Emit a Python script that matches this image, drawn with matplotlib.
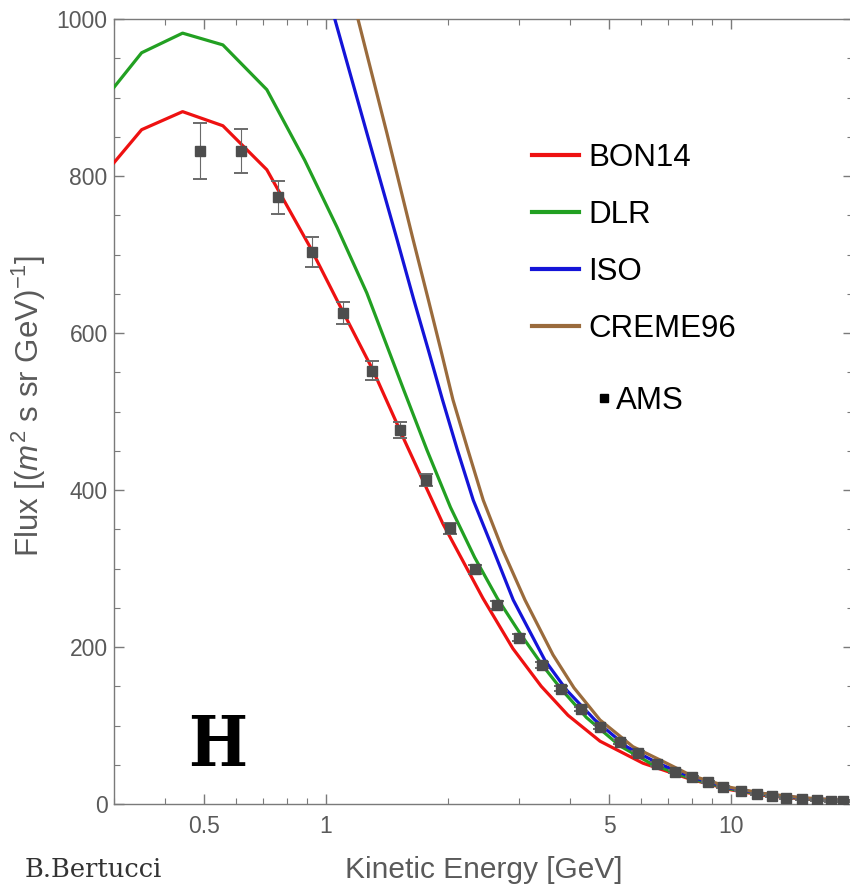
import matplotlib
matplotlib.use("Agg")
import matplotlib.pyplot as plt
from matplotlib.ticker import FixedLocator, NullFormatter, FixedFormatter
from matplotlib.lines import Line2D

# ===== 1) Datos =====
bon14_E = [0.30, 0.351, 0.443, 0.557, 0.715, 0.913, 1.065, 1.306, 1.567, 1.945, 2.442,
           2.895, 3.40, 3.96, 4.75, 6.06, 8.0, 10.0, 12.0, 15.0, 20.0]
bon14_F = [817, 859, 882, 864, 808, 710, 642, 553, 462, 357, 262,
           198, 150, 113, 80, 52, 31, 18, 11, 6.5, 3.3]

dlr_E = [0.30, 0.351, 0.443, 0.557, 0.715, 0.887, 1.065, 1.262, 1.558, 1.776, 2.03,
         2.33, 2.65, 3.0, 3.41, 3.80, 4.40, 5.32, 6.42, 8.0, 10.0, 12.0, 15.0, 20.0]
dlr_F = [913, 957, 982, 967, 910, 820, 735, 651, 527, 451, 378,
         314, 262, 219, 178, 147, 110, 74, 50, 32, 19, 12, 7, 3.5]

iso_E = [1.052, 1.262, 1.497, 1.649, 1.791, 1.940, 2.112, 2.311, 2.589, 2.900, 3.473,
         3.929, 4.615, 5.527, 6.6, 8.0, 10.0, 12.0, 15.0, 20.0]
iso_F = [1000, 855, 720, 642, 578, 515, 451, 387, 324, 260, 183,
         145, 107, 73, 52, 34, 20, 13, 7.5, 3.8]

creme_E = [1.200, 1.414, 1.640, 1.791, 1.923, 2.059, 2.242, 2.446, 2.73, 3.10, 3.636,
           4.096, 4.75, 5.728, 6.871, 8.0, 10.0, 12.0, 15.0, 20.0]
creme_F = [1000, 855, 720, 642, 578, 515, 451, 387, 324, 260, 190,
           148, 107, 73, 53, 36, 21, 13.5, 8, 4]

ams_E = [0.489, 0.619, 0.762, 0.922, 1.104, 1.297, 1.523, 1.765, 2.03, 2.33, 2.65,
         3.00, 3.41, 3.80, 4.26, 4.75, 5.32, 5.90, 6.56, 7.27, 8.0, 8.78, 9.58,
         10.6, 11.6, 12.6, 13.7, 15.0, 16.3, 17.6, 18.9]
ams_F = [832, 832, 773, 703, 625, 552, 476, 413, 351, 299, 253,
         212, 177, 147, 121, 98, 79, 65, 51, 41, 35, 28, 22,
         17, 13, 10, 8, 6, 5, 4, 3.5]
ams_err = [36, 28, 21, 19, 14, 12, 10, 8, 7, 6, 5,
           4, 4, 3, 3, 3, 2, 2, 2, 2, 1, 1, 1,
           1, 1, 1, 1, 1, 1, 1, 1]

x_major = [0.5, 1, 5, 10]
x_major_labels = ["0.5", "1", "5", "10"]
x_minor = [0.3, 0.4, 0.6, 0.7, 0.8, 0.9, 2, 3, 4, 6, 7, 8, 9, 20]

# ===== 2) Estilo =====
plt.rcParams["font.family"] = ["Liberation Sans", "DejaVu Sans"]
plt.rcParams["mathtext.fontset"] = "custom"
plt.rcParams["mathtext.rm"] = "Liberation Sans"
plt.rcParams["mathtext.it"] = "Liberation Sans:italic"

GRAY = "#7a7a7a"
TXT = "#5a5a5a"
colors = {"BON14": "#ee1111", "DLR": "#22a022", "ISO": "#1414d8", "CREME96": "#9a6b3c"}

fig = plt.figure(figsize=(8.5, 8.91), dpi=100)
ax = fig.add_axes([114 / 850, 87 / 891, 739 / 850, 785 / 891])

# ===== 3) Curvas =====
lw = 2.3
ax.plot(bon14_E, bon14_F, color=colors["BON14"], lw=lw, zorder=3)
ax.plot(dlr_E, dlr_F, color=colors["DLR"], lw=lw, zorder=3)
ax.plot(iso_E, iso_F, color=colors["ISO"], lw=lw, zorder=3)
ax.plot(creme_E, creme_F, color=colors["CREME96"], lw=lw, zorder=3)

ax.errorbar(ams_E, ams_F, yerr=ams_err, fmt="s", color="#4d4d4d", ms=7.5,
            ecolor="#6a6a6a", elinewidth=0.8, capsize=4.8, capthick=1.4, zorder=4)

# ===== 4) Ejes =====
ax.set_xscale("log")
ax.set_xlim(0.3, 20)
ax.set_ylim(0, 1000)
ax.xaxis.set_major_locator(FixedLocator(x_major))
ax.xaxis.set_major_formatter(FixedFormatter(x_major_labels))
ax.xaxis.set_minor_locator(FixedLocator(x_minor))
ax.xaxis.set_minor_formatter(NullFormatter())
ax.set_yticks(range(0, 1001, 200))
ax.yaxis.set_minor_locator(FixedLocator(range(50, 1000, 50)))

for s in ax.spines.values():
    s.set_color(GRAY)
    s.set_linewidth(1.0)

ax.tick_params(which="both", direction="in", top=True, right=True, color=GRAY,
               labelcolor=TXT, labelsize=16.5)
ax.tick_params(which="major", length=7, width=1)
ax.tick_params(which="minor", length=4, width=0.8)
ax.tick_params(axis="x", pad=8)
ax.tick_params(axis="y", pad=4.5)

ax.set_xlabel("Kinetic Energy [GeV]", fontsize=21.5, color=TXT)
ax.xaxis.set_label_coords(0.5, -0.066)
ax.set_ylabel(r"Flux [($\mathit{m}^2$ s sr GeV)$^{-1}$]", fontsize=22.5, color=TXT)
ax.yaxis.set_label_coords(-0.089, 0.507)

# ===== 5) Leyenda =====
handles = [Line2D([], [], color=c, lw=3) for c in colors.values()]
leg1 = ax.legend(handles, list(colors.keys()), loc="upper left",
                 bbox_to_anchor=(0.566, 0.842), frameon=False, fontsize=22.5,
                 handlelength=1.5, handletextpad=0.3, labelspacing=0.86,
                 borderpad=0, borderaxespad=0)
ax.add_artist(leg1)
ams_handle = Line2D([], [], ls="none", marker="s", color="black", ms=6)
ax.legend([ams_handle], ["AMS"], loc="upper left", bbox_to_anchor=(0.652, 0.533),
          frameon=False, fontsize=22.5, handlelength=0.5, handletextpad=0.15,
          borderpad=0, borderaxespad=0)

# ===== 6) Textos =====
ax.text(0.140, 0.073, "H", transform=ax.transAxes, fontsize=50,
        fontfamily="DejaVu Serif", fontweight="bold", fontstretch="condensed",
        ha="center", va="center", color="black")
fig.text(25 / 850, 1 - 877 / 891, "B.Bertucci", fontsize=18.5,
         fontfamily="DejaVu Serif", color="#333333", va="baseline")

fig.savefig("out.png", dpi=100)
